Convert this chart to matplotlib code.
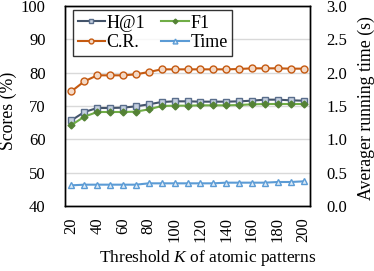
import numpy as np
import matplotlib
matplotlib.use("Agg")
import matplotlib.pyplot as plt

plt.rcParams['font.family'] = ['Liberation Serif', 'DejaVu Serif']
plt.rcParams['mathtext.fontset'] = 'custom'
plt.rcParams['mathtext.it'] = 'Liberation Serif:italic'
plt.rcParams['mathtext.rm'] = 'Liberation Serif'

# data
thresholds = list(range(20, 201, 10))
h1 = [65.7, 68.2, 69.4, 69.4, 69.5, 69.9, 70.5, 71.2, 71.4, 71.4,
      71.3, 71.3, 71.3, 71.4, 71.6, 71.9, 71.9, 71.7, 71.6]
f1 = [64.3, 66.8, 68.2, 68.2, 68.2, 68.3, 69.0, 70.0, 70.1, 70.1,
      70.2, 70.2, 70.2, 70.3, 70.5, 70.6, 70.6, 70.6, 70.6]
cr = [74.4, 77.4, 79.2, 79.2, 79.2, 79.5, 80.2, 81.0, 81.0, 81.0,
      81.0, 81.0, 81.0, 81.1, 81.3, 81.3, 81.3, 81.2, 81.2]
run_time = [0.31, 0.32, 0.32, 0.32, 0.32, 0.32, 0.34, 0.34, 0.34, 0.34,
            0.34, 0.34, 0.35, 0.35, 0.35, 0.35, 0.36, 0.36, 0.37]

fig = plt.figure(figsize=(3.74, 2.71), dpi=100)
ax = fig.add_axes([65/374, 1-206/271, 245/374, 200/271])
ax2 = ax.twinx()

x = np.arange(len(thresholds))
l_h1, = ax.plot(x, h1, color='#44546A', lw=1.5, marker='s', ms=5, mfc='#C5D0E0', mec='#5A6E8C', mew=1, label='H@1')
l_f1, = ax.plot(x, f1, color='#70AD47', lw=1.5, marker='D', ms=3.5, mfc='#548235', mec='#548235', label='F1')
l_cr, = ax.plot(x, cr, color='#C55A11', lw=1.5, marker='o', ms=5, mfc='#F4D9C6', mec='#C55A11', mew=1, label='C.R.')
l_t, = ax2.plot(x, run_time, color='#5B9BD5', lw=1.5, marker='^', ms=5, mfc='#DDEBF7', mec='#5B9BD5', mew=1, label='Time')

ax.set_ylim(40, 100)
ax.set_yticks(range(40, 101, 10))
ax2.set_ylim(0, 3.0)
ax2.set_yticks(np.arange(0, 3.01, 0.5))
ax2.set_yticklabels(['%.1f' % v for v in np.arange(0, 3.01, 0.5)])
ax.set_xlim(-0.5, len(thresholds) - 0.5)
ax.set_xticks(x[::2])
ax.set_xticklabels([str(t) for t in thresholds[::2]], rotation=90)
ax.grid(axis='y', color='#D9D9D9', lw=1)
ax.set_axisbelow(True)

for a in (ax, ax2):
    a.tick_params(length=0, labelsize=12)
    for s in a.spines.values():
        s.set_color('black')
        s.set_linewidth(1)
ax.tick_params(axis='y', pad=14)
ax.tick_params(axis='x', pad=8)
ax2.tick_params(axis='y', pad=12)

ax.set_ylabel('Scores (%)', fontsize=12.8)
ax2.set_ylabel('Averager running time (s)', fontsize=12.8)
ax.set_xlabel('Threshold $K$ of atomic patterns', fontsize=12.5)
ax.yaxis.set_label_coords(-0.196, 0.475)
ax2.yaxis.set_label_coords(1.196, 0.49)
ax.xaxis.set_label_coords(0.584, -0.21)

lines = [l_h1, l_cr, l_f1, l_t]
leg = ax.legend(lines, [l.get_label() for l in lines], ncol=2, loc='upper left',
                bbox_to_anchor=(0.033, 0.98), fontsize=13, frameon=True, fancybox=False,
                edgecolor='black', handlelength=1.5, handletextpad=0.1, columnspacing=0.9,
                borderpad=0.25, labelspacing=0.15, borderaxespad=0, markerscale=0.7)
leg.get_frame().set_linewidth(1)

fig.savefig('out.png', dpi=100)
